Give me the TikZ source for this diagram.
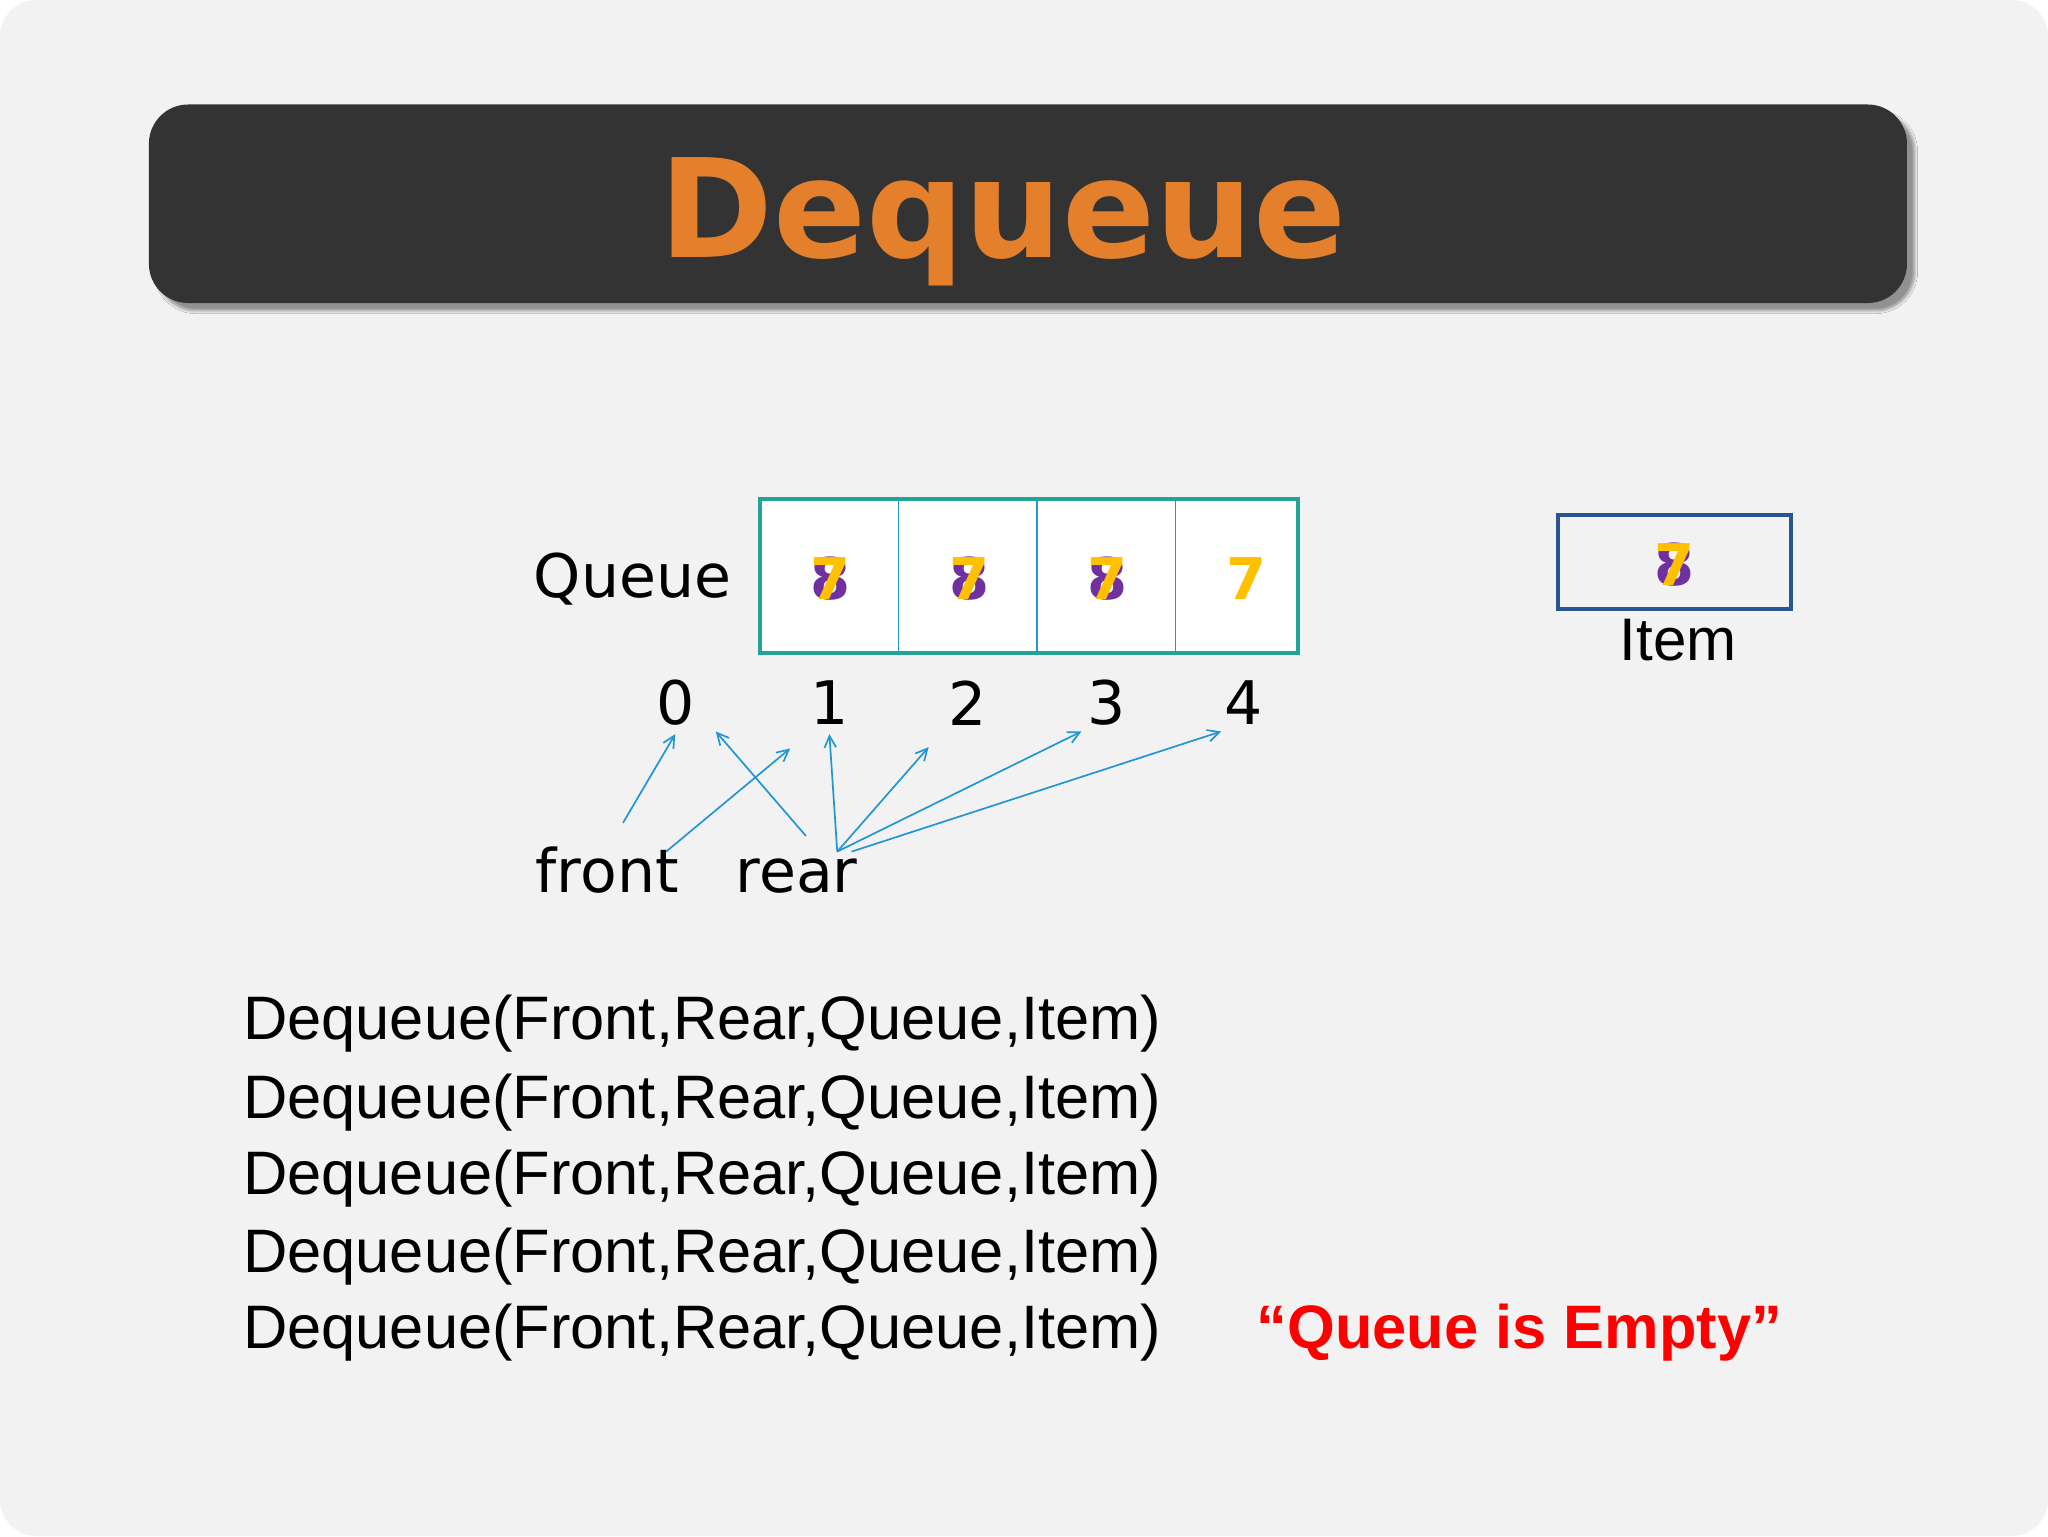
\documentclass[tikz,border=0pt]{standalone}
\usepackage{fontspec}
\setmainfont{Liberation Sans}
\newfontfamily\dv{DejaVu Sans}
\usetikzlibrary{shadows.blur}
\definecolor{bg}{HTML}{F2F2F3}
\definecolor{bar}{HTML}{333333}
\definecolor{org}{HTML}{E47F2C}
\definecolor{teal}{HTML}{22A396}
\definecolor{arr}{HTML}{2196D3}
\definecolor{purp}{HTML}{7030A0}
\definecolor{yel}{HTML}{FFC000}
\definecolor{ibox}{HTML}{2B5592}
\tikzset{
  lbl/.style={font=\dv\fontsize{46}{50}\selectfont, inner sep=0pt},
  code/.style={font=\fontsize{47}{50}\selectfont, anchor=west, inner sep=0pt},
  dig8/.style={font=\dv\bfseries\fontsize{44}{44}\selectfont, text=purp, inner sep=0pt},
  dig7/.style={font=\dv\bfseries\fontsize{44}{44}\selectfont, text=yel, inner sep=0pt},
  ptr/.style={draw=arr, line width=1.3pt, -{Straight Barb[length=9pt,width=9pt]}},
}
\usetikzlibrary{arrows.meta}
\begin{document}
\begin{tikzpicture}[x=1pt,y=-1pt]
\useasboundingbox (0,0) rectangle (1568,1176);
\fill[white] (0,0) rectangle (1568,1176);
\fill[bg, rounded corners=28pt] (0,0) rectangle (1568,1176);
\node[fill=bar, rounded corners=30pt, minimum width=1346pt, minimum height=152pt, blur shadow={shadow xshift=6pt, shadow yshift=-6pt, shadow blur steps=8}] (title) at (787,156) {};
\node[font=\dv\bfseries\fontsize{105}{110}\selectfont, text=org] (tt) at (768,170) {Dequeue};
% queue
\node[draw=teal, line width=3pt, fill=white, minimum width=412pt, minimum height=118pt, inner sep=0pt] (q) at (788,441) {};
\foreach \x in {688,794,900} \draw[arr, line width=1pt] (\x,383.5) -- (\x,498.5);
\foreach \x/\n in {636/a,742/b,848/c} {
  \node[dig8] (e\n) at (\x,443) {8};
  \node[dig7] (s\n) at (\x,443) {7};
}
\node[dig7] (sd) at (954,443) {7};
\node[lbl, anchor=east] (ql) at (560,443) {Queue};
\foreach \x/\i in {517/0,635/1,741/2,847/3,952/4} \node[lbl] (i\i) at (\x,538) {\i};
\node[lbl, anchor=base west] (front) at (410,683) {front};
\node[lbl, anchor=base west] (rear) at (563,683) {rear};
\coordinate (f1) at (477,630); \coordinate (f2) at (510,652);
\coordinate (r0) at (617,640); \coordinate (r1) at (641,652); \coordinate (r2) at (652,652);
\coordinate (t0) at (517,562); \coordinate (t1) at (605,573); \coordinate (t2) at (548,560);
\coordinate (t3) at (635,562); \coordinate (t4) at (711,572); \coordinate (t5) at (828,560); \coordinate (t6) at (935,560);
\draw[ptr] (f1) -- (t0);
\draw[ptr] (f2) -- (t1);
\draw[ptr] (r0) -- (t2);
\draw[ptr] (r1) -- (t3);
\draw[ptr] (r1) -- (t4);
\draw[ptr] (r1) -- (t5);
\draw[ptr] (r2) -- (t6);
% item
\node[draw=ibox, line width=3pt, fill=bg, minimum width=178pt, minimum height=72pt] (item) at (1282,430) {};
\node[dig8] (ie) at (1282,432) {8};
\node[dig7] (is) at (1282,432) {7};
\node[inner sep=0pt, font=\fontsize{46}{50}\selectfont] (il) at (1285,490) {Item};
% code
\foreach \y/\n in {784/1,844/2,902/3,962/4,1020/5} \node[code] (c\n) at (186,\y) {Dequeue(Front,Rear,Queue,Item)};
\node[code, font=\bfseries\fontsize{47}{50}\selectfont, text=red] (emp) at (962,1020) {“Queue is Empty”};
\end{tikzpicture}
\end{document}
